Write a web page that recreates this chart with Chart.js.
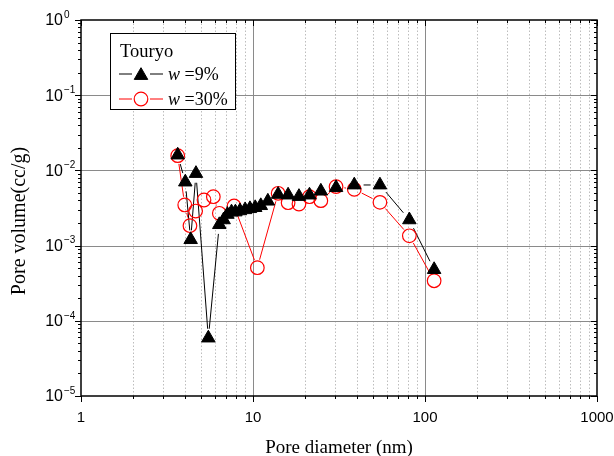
<!DOCTYPE html>
<html><head><meta charset="utf-8">
<script src="https://cdn.jsdelivr.net/npm/chart.js@4.4.0/dist/chart.umd.min.js"></script>
<style>html,body{margin:0;padding:0;background:#fff;}#wrap{width:614px;height:456px;position:relative;}</style>
</head><body><div id="wrap"><canvas id="c" width="614" height="456"></canvas></div>
<script>
// ---- data ----
const legendTitle = 'Touryo';
const seriesLabels = ['=9%', '=30%'];
const diam9 = [3.65, 4.04, 4.34, 4.66, 5.50, 6.37, 6.75, 7.1, 7.5, 7.9, 8.4, 9.0, 9.6, 10.3, 11.1, 12.2, 14.0, 16.0, 18.5, 21.3, 24.8, 30.4, 38.8, 54.7, 81.1, 113];
const vol9  = [0.0160, 0.00700, 0.00120, 0.00910, 5.9e-5, 0.00190, 0.0022, 0.0026, 0.0028, 0.0028, 0.0029, 0.0030, 0.0031, 0.0032, 0.0034, 0.0039, 0.0048, 0.0047, 0.0045, 0.0047, 0.0053, 0.0059, 0.0064, 0.0064, 0.0022, 0.00048];
const diam30 = [3.65, 4.01, 4.30, 4.64, 5.19, 5.88, 6.37, 7.76, 10.6, 14.0, 16.0, 18.5, 21.3, 24.8, 30.4, 38.8, 54.7, 81.1, 113];
const vol30  = [0.0157, 0.00347, 0.00184, 0.00288, 0.00404, 0.00447, 0.00269, 0.00336, 0.000508, 0.00496, 0.00372, 0.00357, 0.00447, 0.00396, 0.00608, 0.00561, 0.00376, 0.00135, 0.000341];
const xTickValues = [1, 10, 100, 1000];
const xTickLabels = ['1', '10', '100', '1000'];
const yTickValues = [1, 0.1, 0.01, 0.001, 0.0001, 0.00001];
const yTickExponents = ['0', '\u22121', '\u22122', '\u22123', '\u22124', '\u22125'];
const xTitle = 'Pore diameter (nm)';
const yTitle = 'Pore volume(cc/g)';

const toPts = (xs, ys) => xs.map((v, i) => ({x: v, y: ys[i]}));
const SANS = '"Liberation Sans", Arial, sans-serif';
const SERIF = '"Liberation Serif", "Times New Roman", serif';

function seg(ctx, x1, y1, x2, y2) { ctx.beginPath(); ctx.moveTo(x1, y1); ctx.lineTo(x2, y2); ctx.stroke(); }

const decor = {
  id: 'decor',
  beforeDatasetsDraw(chart) {
    const {ctx, chartArea: a, scales: {x, y}} = chart;
    ctx.save();
    ctx.lineWidth = 1;
    // minor x grid (dotted)
    ctx.strokeStyle = '#bdbdbd';
    ctx.setLineDash([1.5, 2]);
    for (let d = 1; d < 1000; d *= 10) for (let k = 2; k <= 9; k++) {
      const px = Math.round(x.getPixelForValue(d * k)) + 0.5;
      seg(ctx, px, a.top, px, a.bottom);
    }
    ctx.setLineDash([]);
    // major grid
    ctx.strokeStyle = '#8a8a8a';
    xTickValues.slice(1, -1).forEach(v => { const px = Math.round(x.getPixelForValue(v)) + 0.5; seg(ctx, px, a.top, px, a.bottom); });
    yTickValues.slice(1, -1).forEach(v => { const py = Math.round(y.getPixelForValue(v)) + 0.5; seg(ctx, a.left, py, a.right, py); });
    // connecting lines with gaps at markers (draw red first, black on top)
    [1, 0].forEach(i => {
      const meta = chart.getDatasetMeta(i);
      const ds = chart.data.datasets[i];
      const gap = ds.pointRadius + 1.5;
      ctx.strokeStyle = ds.borderColor;
      ctx.lineWidth = 1;
      const pts = meta.data;
      for (let j = 0; j < pts.length - 1; j++) {
        const p = pts[j], q = pts[j + 1];
        const dx = q.x - p.x, dy = q.y - p.y, d = Math.hypot(dx, dy);
        if (d <= 2 * gap + 1) continue;
        const ux = dx / d, uy = dy / d;
        seg(ctx, p.x + ux * gap, p.y + uy * gap, q.x - ux * gap, q.y - uy * gap);
      }
    });
    ctx.restore();
  },
  afterDatasetsDraw(chart) {
    const {ctx, chartArea: a, scales: {x, y}} = chart;
    ctx.save();
    ctx.strokeStyle = '#000';
    ctx.fillStyle = '#000';
    // frame
    ctx.lineWidth = 1.5;
    ctx.strokeRect(a.left, a.top, a.right - a.left, a.bottom - a.top);
    ctx.lineWidth = 1;
    // x ticks
    for (let d = 1; d <= 1000; d *= 10) {
      for (let k = 1; k <= 9; k++) {
        const v = d * k; if (v > 1000) break;
        const px = Math.round(x.getPixelForValue(v)) + 0.5;
        const L = k === 1 ? 6 : 3;
        seg(ctx, px, a.bottom, px, a.bottom + L);
        seg(ctx, px, a.top, px, a.top + L);
      }
    }
    // y ticks
    for (let d = 1e-5; d <= 1.0001; d *= 10) {
      for (let k = 1; k <= 9; k++) {
        const v = d * k; if (v > 1.0001) break;
        const py = Math.round(y.getPixelForValue(v)) + 0.5;
        const L = k === 1 ? 6 : 3;
        seg(ctx, a.left - L, py, a.left, py);
        seg(ctx, a.right - L, py, a.right, py);
      }
    }
    // x tick labels
    ctx.font = '15px ' + SANS;
    ctx.textAlign = 'center'; ctx.textBaseline = 'middle';
    xTickValues.forEach((v, i) => ctx.fillText(xTickLabels[i], x.getPixelForValue(v), a.bottom + 22));
    // y tick labels: 10 with superscript exponent
    yTickValues.forEach((v, i) => {
      const py = y.getPixelForValue(v);
      ctx.font = '16px ' + SANS;
      ctx.textAlign = 'right'; ctx.textBaseline = 'middle';
      ctx.fillText('10', a.left - 18, py + 1);
      ctx.font = '10px ' + SANS;
      ctx.textAlign = 'left';
      ctx.fillText(yTickExponents[i], a.left - 17, py - 5);
    });
    // axis titles
    ctx.font = '19px ' + SERIF;
    ctx.textAlign = 'center'; ctx.textBaseline = 'middle';
    ctx.fillText(xTitle, (a.left + a.right) / 2, 448);
    ctx.save();
    ctx.translate(20, 221);
    ctx.rotate(-Math.PI / 2);
    ctx.font = '20px ' + SERIF;
    ctx.fillText(yTitle, 0, 0);
    ctx.restore();
    // legend box
    const bx = 110, by = 33, bw = 125, bh = 76;
    ctx.fillStyle = '#fff';
    ctx.fillRect(bx, by, bw, bh);
    ctx.strokeStyle = '#000'; ctx.lineWidth = 1;
    ctx.strokeRect(bx + 0.5, by + 0.5, bw, bh);
    ctx.fillStyle = '#000';
    ctx.font = '18.5px ' + SERIF;
    ctx.textAlign = 'left'; ctx.textBaseline = 'middle';
    ctx.fillText(legendTitle, 120, 52);
    const rows = [74, 99];
    chart.data.datasets.forEach((ds, i) => {
      const cy = rows[i], cx = 141;
      ctx.strokeStyle = ds.borderColor; ctx.lineWidth = 1;
      seg(ctx, 119, cy, 132, cy);
      seg(ctx, 150, cy, 163, cy);
      ctx.fillStyle = ds.pointBackgroundColor;
      ctx.strokeStyle = ds.pointBorderColor;
      ctx.lineWidth = ds.pointBorderWidth;
      Chart.helpers.drawPoint(ctx, {pointStyle: ds.pointStyle, radius: ds.pointRadius, borderWidth: ds.pointBorderWidth, rotation: 0}, cx, cy + (ds.pointStyle === 'triangle' ? 1.5 : 0));
      ctx.fillStyle = '#000';
      ctx.font = 'italic 18px ' + SERIF;
      ctx.fillText('w', 168, cy + 1);
      const w = ctx.measureText('w ').width;
      ctx.font = '18px ' + SERIF;
      ctx.fillText(seriesLabels[i], 168 + w, cy + 1);
    });
    ctx.restore();
  }
};

new Chart(document.getElementById('c'), {
  type: 'scatter',
  data: {
    datasets: [
      { label: 'w =9%', data: toPts(diam9, vol9), pointStyle: 'triangle', pointRadius: 7.8, pointHoverRadius: 7.8,
        borderColor: '#000', backgroundColor: '#000', pointBackgroundColor: '#000', pointBorderColor: '#000', pointBorderWidth: 1, showLine: false },
      { label: 'w =30%', data: toPts(diam30, vol30), pointStyle: 'circle', pointRadius: 6.8, pointHoverRadius: 6.8,
        borderColor: '#ff0000', backgroundColor: 'rgba(0,0,0,0)', pointBackgroundColor: 'rgba(0,0,0,0)', pointBorderColor: '#ff0000', pointBorderWidth: 1.2, showLine: false }
    ]
  },
  options: {
    responsive: false, animation: false, events: [],
    layout: {padding: {left: 81, right: 17, top: 20, bottom: 60}},
    plugins: {legend: {display: false}, tooltip: {enabled: false}},
    scales: {
      x: {type: 'logarithmic', min: 1, max: 1000, display: false},
      y: {type: 'logarithmic', min: 1e-5, max: 1, display: false}
    }
  },
  plugins: [decor]
});
</script>
</body></html>
